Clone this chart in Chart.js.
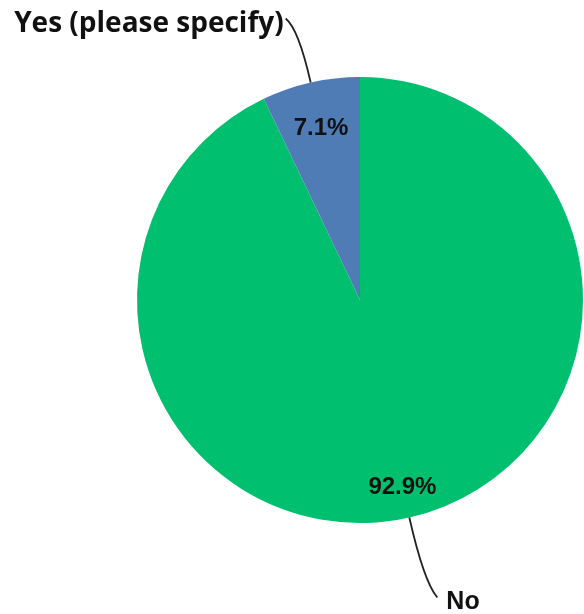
<!DOCTYPE html>
<html>
<head>
<meta charset="utf-8">
<style>
  html, body { margin: 0; padding: 0; background: #fff; }
  #wrap { width: 584px; height: 614px; }
</style>
<script src="https://cdn.jsdelivr.net/npm/chart.js@4.4.0/dist/chart.umd.min.js"></script>
</head>
<body>
<div id="wrap"><canvas id="chart"></canvas></div>
<script>
const labels = ["No", "Yes (please specify)"]
const shares = [92.9, 7.1]
const colors = ["#00bf6f", "#507cb6"]

// how far in the percentage sits (fraction of radius) and where the callout text goes
const pctRadius = [0.86, 0.79]
const callouts = [
    { lead: 66, dx: 28, dy: 80, align: "left", tx: 9, ty: 12,
      font: "bold 25px 'Liberation Sans', Arial, sans-serif" },
    { lead: 55, dx: -25, dy: -64, align: "right", tx: -2, ty: 13,
      font: "bold 28px 'Open Sans', sans-serif" },
]

const calloutPlugin = {
    id: "callouts",
    afterDatasetsDraw(chart) {
        const ctx = chart.ctx
        const arcs = chart.getDatasetMeta(0).data
        arcs.forEach((arc, i) => {
            const { x, y, startAngle, endAngle, outerRadius } = arc.getProps(
                ["x", "y", "startAngle", "endAngle", "outerRadius"], true)
            const mid = (startAngle + endAngle) / 2
            const cos = Math.cos(mid)
            const sin = Math.sin(mid)

            // percentage inside the slice
            ctx.save()
            ctx.fillStyle = "#111"
            ctx.font = "bold 24px 'Liberation Sans', Arial, sans-serif"
            ctx.textAlign = "center"
            ctx.textBaseline = "middle"
            const r = outerRadius * pctRadius[i]
            ctx.fillText(shares[i].toFixed(1) + "%", x + cos * r, y + sin * r)

            // curved leader line out to the category name
            const c = callouts[i]
            const sx = x + cos * outerRadius
            const sy = y + sin * outerRadius
            const cx = x + cos * (outerRadius + c.lead)
            const cy = y + sin * (outerRadius + c.lead)
            const ex = sx + c.dx
            const ey = sy + c.dy
            ctx.strokeStyle = "#222"
            ctx.lineWidth = 1.8
            ctx.beginPath()
            ctx.moveTo(sx, sy)
            ctx.quadraticCurveTo(cx, cy, ex, ey)
            ctx.stroke()

            ctx.font = c.font
            ctx.textAlign = c.align
            ctx.textBaseline = "alphabetic"
            ctx.fillText(labels[i], ex + c.tx, ey + c.ty)
            ctx.restore()
        })
    },
}

const chart = new Chart(document.getElementById("chart"), {
    type: "pie",
    data: {
        labels,
        datasets: [
            {
                data: shares,
                backgroundColor: colors,
                borderWidth: 0,
            },
        ],
    },
    options: {
        responsive: true,
        maintainAspectRatio: false,
        animation: false,
        layout: { padding: { left: 137, right: 1, top: 77, bottom: 91 } },
        plugins: {
            legend: { display: false },
            tooltip: { enabled: false },
        },
    },
    plugins: [calloutPlugin],
})
</script>
</body>
</html>
